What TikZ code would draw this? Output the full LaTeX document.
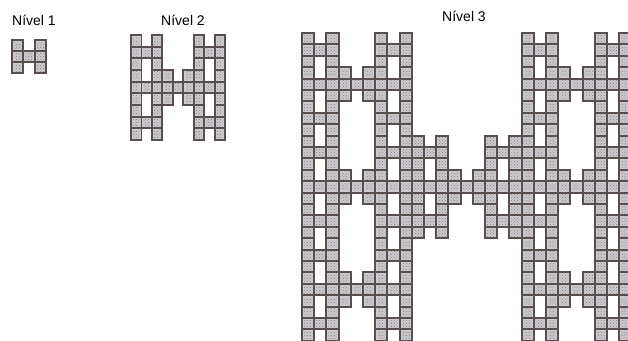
\documentclass[tikz,border=0pt]{standalone}
\usepackage{fontspec}
\setmainfont{Liberation Sans}
\usetikzlibrary{patterns}
\definecolor{cellfill}{RGB}{205,203,208}
\definecolor{celldot}{RGB}{130,126,134}
\definecolor{celledge}{RGB}{88,78,78}
\tikzset{
  cell/.style={fill=cellfill, draw=celledge, line width=1.9pt},
  celltex/.style={pattern=crosshatch dots, pattern color=celldot},
  lab/.style={font=\fontsize{14}{16}\selectfont, inner sep=0pt}
}
\newcommand{\hlevel}[5]{%
  % #1 = N, #2 = x0, #3 = y0, #4 = px, #5 = py
  \pgfmathtruncatemacro\nmax{#1-1}
  \foreach \r in {0,...,\nmax}{
    \foreach \c in {0,...,\nmax}{
      \pgfmathtruncatemacro\ok{and(or(mod(\c,3)!=1,mod(\r,3)==1),and(or(mod(floor(\c/3),3)!=1,mod(floor(\r/3),3)==1),or(mod(floor(\c/9),3)!=1,mod(floor(\r/9),3)==1)))}
      \ifnum\ok=1
        \draw[cell] ({#2+\c*#4},{#3+\r*#5}) rectangle ++(#4,#5);
        \fill[celltex] ({#2+\c*#4+2},{#3+\r*#5+2}) rectangle ++({#4-4},{#5-4});
      \fi
    }
  }
}
\begin{document}
\begin{tikzpicture}[x=1pt,y=-1pt]
\useasboundingbox (0,0) rectangle (628,340);
\clip (0,0) rectangle (628,340);
\node[lab] (l1) at (34,20) {Nível 1};
\node[lab] (l2) at (183,20) {Nível 2};
\node[lab] (l3) at (464,16) {Nível 3};
\hlevel{3}{12}{40}{11.3}{11}
\hlevel{9}{131}{35}{10.45}{11.65}
\hlevel{27}{302}{33}{12.2}{11.4}
\end{tikzpicture}
\end{document}
